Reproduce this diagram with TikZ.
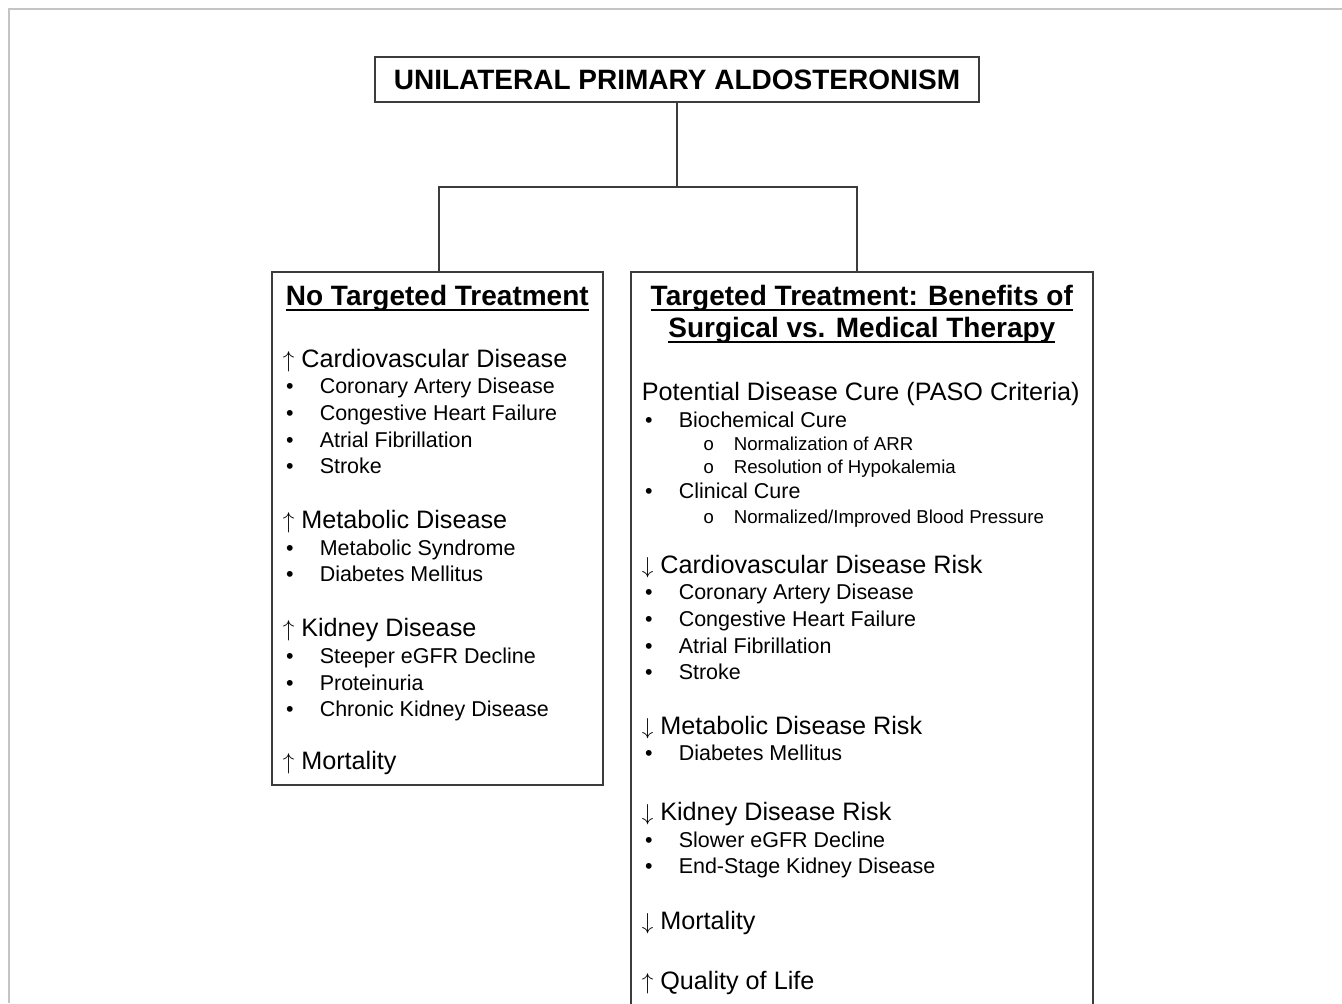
\documentclass[tikz,border=0pt]{standalone}
\usepackage{fontspec}
\setmainfont{Liberation Sans}
\setmonofont{Liberation Mono}
\usepackage{tikz}
\usepackage{xcolor}
\definecolor{boxline}{HTML}{3C3C3C}
\definecolor{frameline}{HTML}{C4C4C4}
\newcommand{\titlefont}{\fontsize{21pt}{20pt}\bfseries\selectfont}
\newcommand{\headfont}{\fontsize{18.9pt}{20pt}\selectfont}
\newcommand{\itemfont}{\fontsize{16.1pt}{20pt}\selectfont}
\newcommand{\subfont}{\fontsize{14pt}{20pt}\selectfont}
\newcommand{\underlined}[1]{\setbox0\hbox{#1}\rlap{\rule[-4.2pt]{\wd0}{1.6pt}}\box0}
\newcommand{\uparr}{$\uparrow$\ }
\newcommand{\downarr}{$\downarrow$\ }
\newcommand{\bulletitem}[1]{{\itemfont\makebox[27.75pt][l]{\hspace{2.5pt}•}#1}}
\newcommand{\circitem}[1]{{\subfont\makebox[69pt][l]{\hspace{46pt}\ttfamily o}#1}}
\tikzset{
    title-box/.style = {draw=boxline, line width=1.2pt, rectangle, minimum width=453pt, minimum height=33.75pt, inner sep=0pt, font=\titlefont},
    list-box/.style = {draw=boxline, line width=1.2pt, rectangle, anchor=north west, inner xsep=8.25pt, inner ysep=0pt},
    link/.style = {draw=boxline, line width=1.2pt},
    frame-line/.style = {draw=frameline, line width=1.1pt},
}

\begin{document}
\begin{tikzpicture}[x=0.75pt, y=-0.75pt]
\useasboundingbox (0,0) rectangle (1342,1003);
\clip (0,0) rectangle (1342,1003);
\draw[frame-line] (9,1003) -- (9,9) -- (1342,9);

\node[title-box] (upa) at (677,79.5) {UNILATERAL PRIMARY ALDOSTERONISM};

\node[list-box] (notx) at (271,271) {\begin{minipage}{231.75pt}
    \itemfont\lineskiplimit=-100pt
    \rule{0pt}{25.5pt}\makebox[\linewidth]{\titlefont\underlined{No Targeted Treatment}}\\[26.1pt]
    {\headfont\uparr Cardiovascular Disease}\\
    \bulletitem{Coronary Artery Disease}\\
    \bulletitem{Congestive Heart Failure}\\
    \bulletitem{Atrial Fibrillation}\\
    \bulletitem{Stroke}\\[20.9pt]
    {\headfont\uparr Metabolic Disease}\\
    \bulletitem{Metabolic Syndrome}\\
    \bulletitem{Diabetes Mellitus}\\[21.25pt]
    {\headfont\uparr Kidney Disease}\\
    \bulletitem{Steeper eGFR Decline}\\
    \bulletitem{Proteinuria}\\
    \bulletitem{Chronic Kidney Disease}\\[19.75pt]
    {\headfont\uparr Mortality}\rule[-11.25pt]{0pt}{11.25pt}
\end{minipage}};

\node[list-box] (tx) at (630,271) {\begin{minipage}{330pt}
    \itemfont\lineskiplimit=-100pt
    \rule{0pt}{25.5pt}\makebox[\linewidth]{\titlefont\underlined{Targeted Treatment: Benefits of}}\\[4pt]
    \makebox[\linewidth]{\titlefont\underlined{Surgical vs. Medical Therapy}}\\[27.25pt]
    {\headfont Potential Disease Cure (PASO Criteria)}\\
    \bulletitem{Biochemical Cure}\\[-2.4pt]
    \circitem{Normalization of ARR}\\[-2.75pt]
    \circitem{Resolution of Hypokalemia}\\[-1.6pt]
    \bulletitem{Clinical Cure}\\[-1.6pt]
    \circitem{Normalized/Improved Blood Pressure}\\[17.5pt]
    {\headfont\downarr Cardiovascular Disease Risk}\\
    \bulletitem{Coronary Artery Disease}\\
    \bulletitem{Congestive Heart Failure}\\
    \bulletitem{Atrial Fibrillation}\\
    \bulletitem{Stroke}\\[20.9pt]
    {\headfont\downarr Metabolic Disease Risk}\\
    \bulletitem{Diabetes Mellitus}\\[24.6pt]
    {\headfont\downarr Kidney Disease Risk}\\
    \bulletitem{Slower eGFR Decline}\\
    \bulletitem{End-Stage Kidney Disease}\\[21.6pt]
    {\headfont\downarr Mortality}\\[25pt]
    {\headfont\uparr Quality of Life}\rule[-30pt]{0pt}{30pt}
\end{minipage}};

% tree connectors
\coordinate (split) at (677,187);
\coordinate (ldrop) at ([xshift=1.1pt]notx.north);
\coordinate (rdrop) at ([xshift=-3.75pt]tx.north);
\draw[link] (upa.south) -- (split);
\draw[link] (ldrop) |- (split) -| (rdrop);
\end{tikzpicture}
\end{document}
